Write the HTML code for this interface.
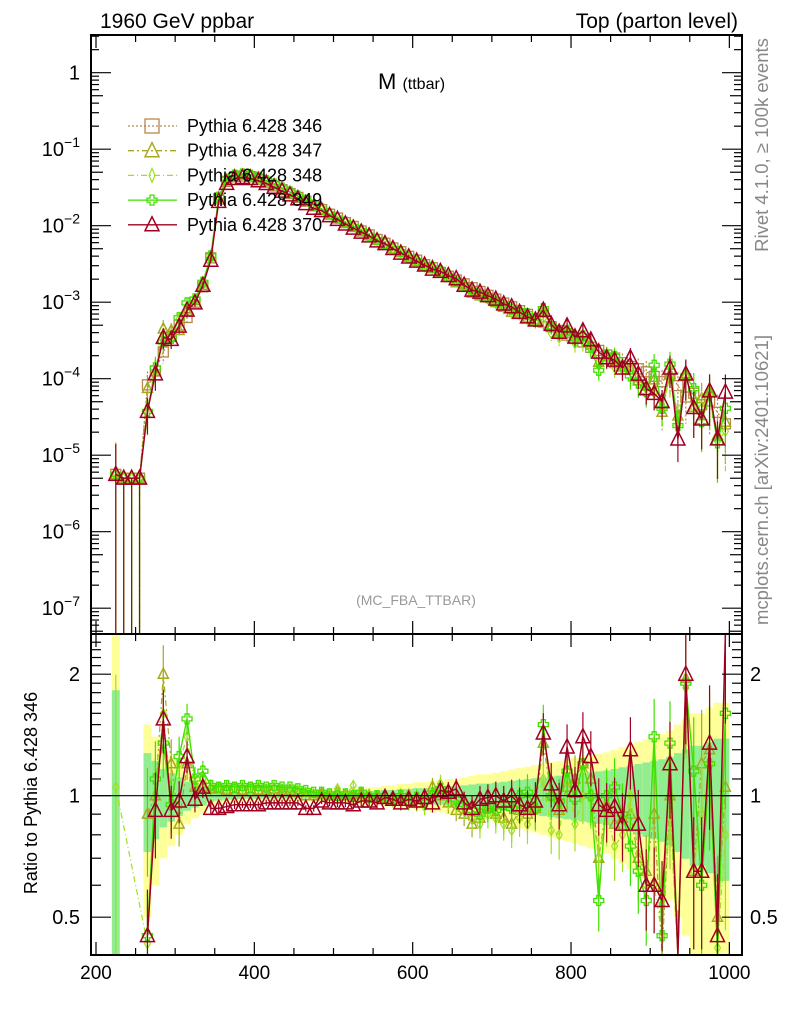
<!DOCTYPE html>
<html><head><meta charset="utf-8"><style>
html,body{margin:0;padding:0;background:#fff;width:786px;height:1024px;overflow:hidden;}
svg{display:block;font-family:"Liberation Sans",sans-serif;}
</style></head><body>
<svg id="chart" width="786" height="1024" viewBox="0 0 786 1024" xmlns="http://www.w3.org/2000/svg">
<g id="bands"></g>
<g id="series"></g>
<g id="axes"></g>
<text x="100" y="28" font-size="21">1960 GeV ppbar</text>
<text x="738" y="28" font-size="21" text-anchor="end">Top (parton level)</text>
<text x="378" y="89" font-size="22">M <tspan font-size="16">(ttbar)</tspan></text>
<text x="416" y="605" font-size="14" fill="#999" text-anchor="middle">(MC_FBA_TTBAR)</text>
<text transform="translate(768,145) rotate(-90)" font-size="18.5" fill="#888" text-anchor="middle">Rivet 4.1.0, ≥ 100k events</text>
<text transform="translate(768,480) rotate(-90)" font-size="18.5" fill="#888" text-anchor="middle">mcplots.cern.ch [arXiv:2401.10621]</text>
<text transform="translate(37,793) rotate(-90)" font-size="18" text-anchor="middle">Ratio to Pythia 6.428 346</text>
<g id="legend"></g>
</svg>
<script>
const binCenters=[225,235,245,255,265,275,285,295,305,315,325,335,345,355,365,375,385,395,405,415,425,435,445,455,465,475,485,495,505,515,525,535,545,555,565,575,585,595,605,615,625,635,645,655,665,675,685,695,705,715,725,735,745,755,765,775,785,795,805,815,825,835,845,855,865,875,885,895,905,915,925,935,945,955,965,975,985,995];
const ref346Log=[-5.25,-5.3,-5.3,-5.3,-4.08,-3.9,-3.65,-3.45,-3.3,-3.2,-3.0,-2.8,-2.42,-1.65,-1.42,-1.36,-1.35,-1.36,-1.39,-1.43,-1.48,-1.53,-1.58,-1.63,-1.68,-1.74,-1.79,-1.85,-1.90,-1.96,-2.01,-2.07,-2.12,-2.18,-2.23,-2.29,-2.34,-2.40,-2.45,-2.51,-2.55,-2.61,-2.66,-2.71,-2.76,-2.81,-2.86,-2.91,-2.96,-3.01,-3.06,-3.11,-3.16,-3.22,-3.26,-3.32,-3.37,-3.43,-3.47,-3.52,-3.59,-3.63,-3.69,-3.73,-3.79,-3.84,-3.87,-3.91,-3.97,-4.04,-3.94,-4.09,-4.24,-4.19,-4.34,-4.29,-4.44,-4.59];
const ratio347=[1,1,1,1,0.9,1.0,2.0,1.2,0.85,1.2,1.05,1.05,1.04,1.04,1.03,1.04,1.03,1.04,1.03,1.03,1.04,1.03,1.03,1.02,1.0,1.0,1.01,1.0,1.02,1.0,0.99,1.01,1.0,0.99,1.0,0.98,0.99,1.0,0.96,0.98,1.05,1.0,0.96,0.92,0.9,0.85,0.88,0.93,0.9,0.88,0.85,0.92,0.9,0.93,1.35,1.0,0.92,1.05,1.1,1.2,1.1,0.7,0.95,0.85,0.88,0.9,0.7,0.65,0.9,0.4,1.0,0.4,1.95,0.65,1.2,1.3,0.5,1.05];
const ratio348=[1.05,1,1,1,0.43,1.0,1.6,1.0,1.2,1.4,1.05,1.1,1.05,1.04,1.05,1.04,1.05,1.04,1.05,1.04,1.04,1.04,1.03,1.03,1.02,1.01,1.0,1.01,1.04,1.0,1.06,0.99,1.0,0.98,1.0,0.97,0.98,0.96,0.98,0.94,0.99,1.07,0.98,0.95,0.93,0.88,0.85,0.9,0.88,0.85,0.82,0.88,0.85,0.92,1.1,0.82,0.8,1.15,0.85,1.0,0.98,0.7,0.9,0.75,0.8,1.0,0.72,0.6,0.6,0.45,0.9,0.3,1.85,0.65,0.9,1.2,0.42,0.8];
const ratio349=[1,1,1,1,0.45,1.1,1.35,0.95,1.25,1.55,1.1,1.15,1.06,1.05,1.06,1.05,1.06,1.05,1.06,1.05,1.06,1.05,1.05,1.04,1.03,1.02,1.02,1.01,1.0,1.01,1.0,1.02,0.99,1.0,0.99,0.98,1.0,0.97,0.99,0.97,1.0,1.04,1.0,0.98,0.95,0.92,0.9,0.93,0.92,0.95,0.93,1.0,1.02,0.93,1.5,1.0,0.97,1.15,0.98,1.2,1.0,0.55,1.0,1.05,0.9,0.75,0.65,0.55,1.4,0.45,1.35,0.3,1.9,1.15,0.6,1.2,0.4,1.6];
const ratio370=[1,1,1,1,0.45,0.92,1.55,0.92,0.97,1.25,0.98,1.05,0.93,0.93,0.94,0.95,0.95,0.95,0.95,0.96,0.96,0.96,0.96,0.96,0.93,0.93,0.97,0.96,0.96,0.96,0.95,0.97,0.97,0.96,0.99,0.98,0.96,0.98,0.97,0.99,0.96,1.03,1.02,1.04,0.96,0.93,0.98,0.99,1.0,0.97,1.0,0.95,0.93,0.97,1.43,1.07,0.95,1.32,1.03,1.4,1.25,0.95,0.92,0.94,0.85,1.3,0.85,0.6,0.6,0.55,1.2,0.2,2.0,0.65,0.65,1.35,0.45,2.6];
const relErr=[1.5,0,0,0,0.5,0.4,0.3,0.25,0.2,0.15,0.12,0.1,0.06,0.05,0.04,0.04,0.03,0.03,0.03,0.03,0.03,0.03,0.03,0.03,0.03,0.03,0.03,0.03,0.04,0.04,0.04,0.05,0.05,0.05,0.06,0.06,0.07,0.07,0.08,0.08,0.09,0.09,0.1,0.1,0.11,0.12,0.13,0.13,0.14,0.15,0.16,0.17,0.18,0.19,0.2,0.21,0.22,0.23,0.24,0.25,0.26,0.27,0.28,0.3,0.32,0.34,0.36,0.38,0.4,0.42,0.45,0.5,0.55,0.6,0.6,0.65,0.7,0.7];
const seriesNames=["Pythia 6.428 346","Pythia 6.428 347","Pythia 6.428 348","Pythia 6.428 349","Pythia 6.428 370"];
const xTicks=[200,400,600,800,1000];
const mainTickExps=[0,-1,-2,-3,-4,-5,-6,-7];
const ratioTicks=[0.5,1,2];

const NS="http://www.w3.org/2000/svg";
const L=91,R=742,T=35,MB=634,RB=955;
const X=v=>96+(v-200)*0.7917;
const YM=lg=>72.7-lg*76.5;
const YR=r=>795.7-Math.log10(r)*403.6;
function mk(tag,attrs,parent){const e=document.createElementNS(NS,tag);for(const k in attrs)e.setAttribute(k,attrs[k]);parent.appendChild(e);return e;}
const bands=document.getElementById('bands'),ser=document.getElementById('series'),ax=document.getElementById('axes'),leg=document.getElementById('legend');
const clampR=y=>Math.max(MB,Math.min(RB,y));
const clampM=y=>Math.max(T,Math.min(MB,y));

for(let i=0;i<binCenters.length;i++){
  const x0=X(binCenters[i]-5),x1=X(binCenters[i]+5),e=relErr[i];
  if(e<=0)continue;
  const yt=clampR(YR(1+e)),yb=e>=1?RB:clampR(YR(1-e));
  const r1=mk('rect',{x:x0,y:yt,width:x1-x0,height:yb-yt,fill:'#ffff99'},bands);
  
  
  const g=e*0.55,gt=clampR(YR(1+g)),gb=g>=1?RB:clampR(YR(1-g));
  const r2=mk('rect',{x:x0,y:gt,width:x1-x0,height:gb-gt,fill:'#90ee90'},bands);
  
  
}

const styles=[
 {c:'#b8864b',dash:'2,2',m:'sq',w:1.2},
 {c:'#a8a820',dash:'6,3,2,3',m:'tri',w:1.2},
 {c:'#a0e020',dash:'6,3,1,3',m:'dia',w:1.2},
 {c:'#40e000',dash:'',m:'plus',w:1.4},
 {c:'#a00020',dash:'',m:'tri',w:1.5}
];
const ratios=[binCenters.map(()=>1),ratio347,ratio348,ratio349,ratio370];
function marker(m,x,y,c,p,big){
  const s=big?7:5;let e;
  if(m==='sq')e=mk('rect',{x:x-s,y:y-s,width:2*s,height:2*s,fill:'none',stroke:c,'stroke-width':1.3},p);
  else if(m==='tri')e=mk('polygon',{points:`${x},${y-s-1} ${x-s},${y+s-1} ${x+s},${y+s-1}`,fill:'none',stroke:c,'stroke-width':1.5},p);
  else if(m==='dia')e=mk('polygon',{points:`${x},${y-s} ${x-3},${y} ${x},${y+s} ${x+3},${y}`,fill:'none',stroke:c,'stroke-width':1.2},p);
  else e=mk('path',{d:`M${x-2},${y-5}h4v3h3v4h-3v3h-4v-3h-3v-4h3z`,fill:'none',stroke:c,'stroke-width':1.3},p);
  
  
}
function drawClip(id,y0,y1){const cp=mk('clipPath',{id:id},ser);mk('rect',{x:L,y:y0,width:R-L,height:y1-y0},cp);}
drawClip('cm',T,MB);drawClip('cr',MB,RB);
for(let s=0;s<5;s++){
  const st=styles[s];
  const gm=mk('g',{'clip-path':'url(#cm)'},ser);
  
  
  const gr=mk('g',{'clip-path':'url(#cr)'},ser);
  
  
  let pm=[],pr=[];
  for(let i=0;i<binCenters.length;i++){
    const x=X(binCenters[i]),r=ratios[s][i],lg=ref346Log[i]+Math.log10(r);
    const ym=YM(lg),yr=clampR(YR(r)),e=Math.max(relErr[i],0.02);
    pm.push(x+','+ym);
    if(i>=4||(s===2&&i===0))pr.push(x+','+yr);
    const ebTop=clampM(YM(lg+Math.log10(1+e))),ebBot=(e>=0.9||i<4)?MB:clampM(YM(lg+Math.log10(1-e)));
    mk('line',{x1:x,x2:x,y1:ebTop,y2:ebBot,stroke:st.c,'stroke-width':1.2,'stroke-dasharray':st.dash},gm);
    marker(st.m,x,ym,st.c,gm,s===4);
    if(s===0)continue;
    if(i>=4||(s===2&&i===0)){
      const rt=clampR(YR(r*(1+e*0.6))),rb=clampR(YR(Math.max(r*(1-e*0.6),0.01)));
      mk('line',{x1:x,x2:x,y1:rt,y2:rb,stroke:st.c,'stroke-width':1.2},gr);
      if(yr>MB&&yr<RB)marker(st.m,x,yr,st.c,gr,s===4);
    }
  }
  mk('polyline',{points:pm.join(' '),fill:'none',stroke:st.c,'stroke-width':st.w,'stroke-dasharray':st.dash},gm);
  if(s>0)mk('polyline',{points:pr.join(' '),fill:'none',stroke:st.c,'stroke-width':st.w,'stroke-dasharray':st.dash},gr);
}

mk('rect',{x:L,y:T,width:R-L,height:MB-T,fill:'none',stroke:'#000','stroke-width':2},ax);
mk('rect',{x:L,y:MB,width:R-L,height:RB-MB,fill:'none',stroke:'#000','stroke-width':2},ax);
mk('line',{x1:L,x2:R,y1:YR(1),y2:YR(1),stroke:'#000','stroke-width':1.2},ax);
for(let v=200;v<=1000;v+=50){
  const x=X(v),big=v%200===0,len=big?13:7;
  for(const [y0,dir] of [[T,1],[MB,-1],[MB,1],[RB,-1]]){
    mk('line',{x1:x,x2:x,y1:y0,y2:y0+dir*len,stroke:'#000','stroke-width':1.2},ax);
  }
}
xTicks.forEach(v=>{const t=mk('text',{x:X(v),y:979,'font-size':19,'text-anchor':'middle'},ax);t.textContent=v;

});
for(let d=1;d>=-8;d--){
  for(let k=1;k<=9;k++){
    const y=YM(d+Math.log10(k));if(y<T||y>MB)continue;
    const len=k===1?20:(k===5?12:8);
    mk('line',{x1:L,x2:L+len,y1:y,y2:y,stroke:'#000','stroke-width':1.2},ax);
    mk('line',{x1:R,x2:R-len,y1:y,y2:y,stroke:'#000','stroke-width':1.2},ax);
  }
}
mainTickExps.forEach(d=>{
  const t=mk('text',{x:80,y:YM(d)+7,'font-size':20,'text-anchor':'end'},ax);
  if(d===0)t.textContent='1';else{t.textContent='10';const sp=mk('tspan',{dy:-9,'font-size':14},t);sp.textContent='−'+(-d);}
  
  
});
for(let v=0.4;v<=2.5;v+=0.1){
  const y=YR(v);if(y<MB||y>RB)continue;
  const maj=Math.abs(v-0.5)<1e-6||Math.abs(v-1)<1e-6||Math.abs(v-2)<1e-6;const len=maj?20:10;
  mk('line',{x1:L,x2:L+len,y1:y,y2:y,stroke:'#000','stroke-width':1.2},ax);
  mk('line',{x1:R,x2:R-len,y1:y,y2:y,stroke:'#000','stroke-width':1.2},ax);
}
ratioTicks.forEach(v=>{
  const t=mk('text',{x:80,y:YR(v)+7,'font-size':20,'text-anchor':'end'},ax);t.textContent=v;
  
  
  const t2=mk('text',{x:750,y:YR(v)+7,'font-size':20},ax);t2.textContent=v;
  
  
});
seriesNames.forEach((n,i)=>{
  const y=126+i*24.7,st=styles[i];
  const g=mk('g',{},leg);
  
  
  mk('line',{x1:128,x2:177,y1:y,y2:y,stroke:st.c,'stroke-width':1.3,'stroke-dasharray':st.dash},g);
  marker(st.m,152,y,st.c,g,i!==3);
  const t=mk('text',{x:187,y:y+6,'font-size':18},g);t.textContent=n;
});
</script>
</body></html>
